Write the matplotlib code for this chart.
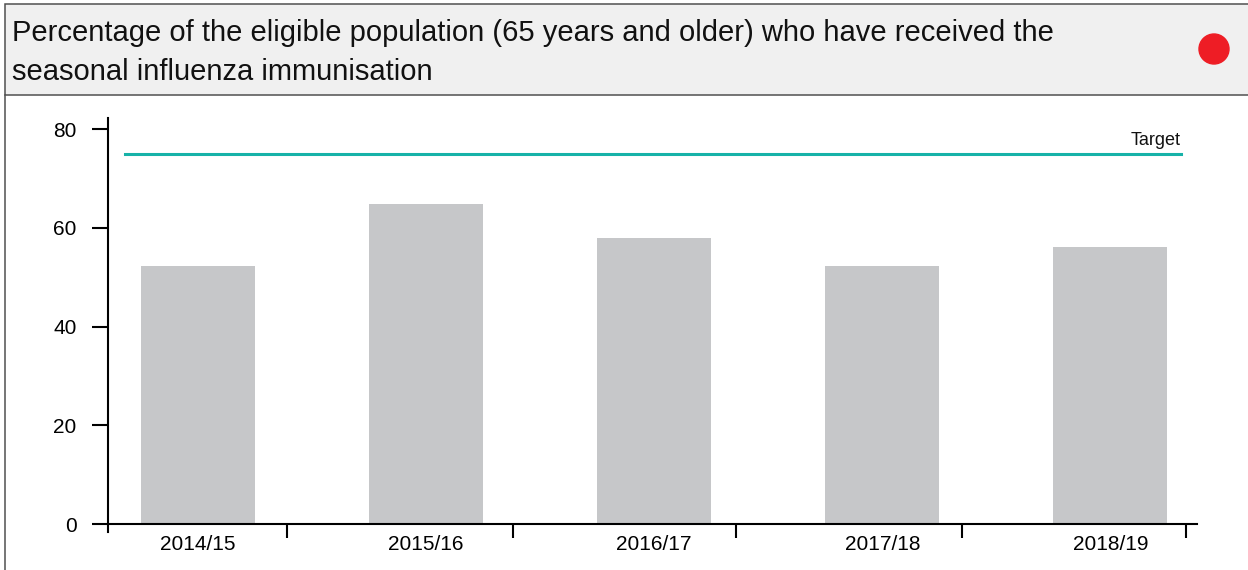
import numpy as np
import matplotlib.pyplot as plt
from matplotlib.patches import Rectangle, Ellipse
from matplotlib.lines import Line2D

seasons = ['2014/15', '2015/16', '2016/17', '2017/18', '2018/19']
uptake = [52.2, 64.8, 57.9, 52.2, 56.1]
target = 75
yticks = [0, 20, 40, 60, 80]
boundary_ticks = [0.39, 1.38, 2.36, 3.35, 4.33]

title_1 = 'Percentage of the eligible population (65 years and older) who have received the'
title_2 = 'seasonal influenza immunisation'

plt.rcParams['font.family'] = ['Liberation Sans', 'DejaVu Sans']

W, H = 1248, 570
fig = plt.figure(figsize=(W / 100, H / 100), dpi=100)


def fx(px):
    return px / W


def fy(py):
    return 1 - py / H


# header panel with the title and status dot
fig.add_artist(Rectangle((fx(4.5), fy(95)), fx(1300), fy(4) - fy(95),
                         transform=fig.transFigure, facecolor='#f0f0f0',
                         edgecolor='#505050', lw=1.1))
fig.add_artist(Line2D([fx(4.5), fx(4.5)], [fy(95), fy(580)],
                      transform=fig.transFigure, color='#505050', lw=1.1))
fig.add_artist(Ellipse((fx(1214), fy(49)), 30 / W, 30 / H,
                       transform=fig.transFigure, color='#ee1d25'))
fig.text(fx(12), fy(41), title_1, fontsize=21, va='baseline', color='#111111')
fig.text(fx(12), fy(80), title_2, fontsize=21, va='baseline', color='#111111')

ax = fig.add_axes([fx(108), fy(532), (1197 - 108) / W, (532 - 118) / H])
x = np.arange(len(seasons))
ax.bar(x, uptake, width=0.5, color='#c6c7c9')
ax.plot([-0.32, len(seasons) - 1 + 0.31], [target, target], color='#17b2a8', lw=2.2)
ax.annotate('Target', xy=(len(seasons) - 1 + 0.31, target), xytext=(0, 3.5),
            textcoords='offset points', ha='right', va='bottom', fontsize=13,
            color='#111111')

ax.set_xlim(-0.395, 4.38)
ax.set_ylim(-1.62, 82.23)

for s in ['top', 'right']:
    ax.spines[s].set_visible(False)
ax.spines['bottom'].set_position(('data', 0))
ax.spines['bottom'].set_linewidth(1.5)
ax.spines['left'].set_linewidth(1.5)

ax.set_xticks(x, seasons)
ax.tick_params(axis='x', which='major', length=0, pad=8, labelsize=15)
ax.set_xticks(boundary_ticks, minor=True)
ax.tick_params(axis='x', which='minor', length=10, width=1.5)
ax.set_yticks(yticks)
ax.tick_params(axis='y', length=11.5, width=1.5, pad=11, labelsize=15)

fig.savefig('out.png', dpi=100)
